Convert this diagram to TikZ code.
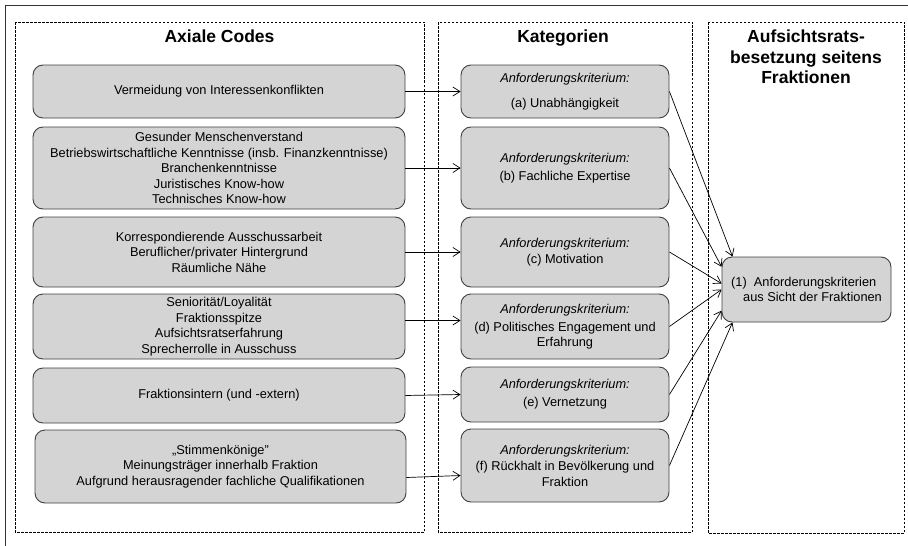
\documentclass[tikz,border=0pt]{standalone}
\usepackage{fontspec}
\setmainfont{Liberation Sans}
\usetikzlibrary{arrows, arrows.meta}
\usetikzlibrary{positioning}
\usepackage{xcolor}

\definecolor{boxgrau}{HTML}{D4D4D4}
\definecolor{randgrau}{HTML}{404040}

\tikzset{
	box/.style={draw=randgrau, fill=boxgrau, line width=0.9pt, rounded corners=10pt, align=center, inner sep=0pt, font=\fontsize{12.8}{15.5}\selectfont},
	codebox/.style={box, minimum width=372pt},
	katbox/.style={box, minimum width=208pt},
	panel/.style={draw, dash pattern=on 2.5pt off 1.5pt, line width=0.7pt},
	titel/.style={font=\fontsize{17.5}{20.5}\selectfont\bfseries, align=center, anchor=north, inner sep=0pt},
	pfeil/.style={-{Straight Barb[length=7pt,width=9pt]}, line width=0.7pt}
}

\begin{document}
\begin{tikzpicture}[x=1pt, y=-1pt] % Axiale Codes -> Kategorien -> Aufsichtsratsbesetzung

	\useasboundingbox (0,0) rectangle (908,546);

	%frame and panels
	\draw[line width=1pt, black!80] (5,546) -- (5,5) -- (908,5);
	\draw[panel] (15,22) rectangle (424,532);
	\draw[panel] (438,22) rectangle (692,532);
	\draw[panel] (708,22) rectangle (904,533);

	%titles
	\node[titel] (tcodes) at (219.5,30) {Axiale Codes};
	\node[titel] (tkat) at (563,30) {Kategorien};
	\node[titel] (tar) at (806,30) {Aufsichtsrats-\\besetzung seitens\\Fraktionen};

	%axiale codes
	\node[codebox, minimum height=53pt] (L1) at (219,91.5) {Vermeidung von Interessenkonflikten};
	\node[codebox, minimum height=82pt] (L2) at (219,168) {Gesunder Menschenverstand\\Betriebswirtschaftliche Kenntnisse (insb. Finanzkenntnisse)\\Branchenkenntnisse\\Juristisches Know-how\\Technisches Know-how};
	\node[codebox, minimum height=70pt] (L3) at (219,252) {Korrespondierende Ausschussarbeit\\Beruflicher/privater Hintergrund\\Räumliche Nähe};
	\node[codebox, minimum height=65pt] (L4) at (219,326.5) {Seniorität/Loyalität\\Fraktionsspitze\\Aufsichtsratserfahrung\\Sprecherrolle in Ausschuss};
	\node[codebox, minimum height=55pt] (L5) at (219,395.5) {Fraktionsintern (und -extern)};
	\node[codebox, minimum height=73pt, minimum width=371pt] (L6) at (220.5,466.5) {„Stimmenkönige"\\Meinungsträger innerhalb Fraktion\\Aufgrund herausragender fachliche Qualifikationen};

	%kategorien
	\node[katbox, minimum height=53pt] (M1) at (565,91.5) {\itshape Anforderungskriterium:\\[9pt](a) Unabhängigkeit};
	\node[katbox, minimum height=82pt] (M2) at (565,168) {\itshape Anforderungskriterium:\\[3pt](b) Fachliche Expertise};
	\node[katbox, minimum height=70pt] (M3) at (565,252) {\itshape Anforderungskriterium:\\(c) Motivation};
	\node[katbox, minimum height=65pt] (M4) at (565,326.5) {\itshape Anforderungskriterium:\\[2.5pt](d) Politisches Engagement und\\Erfahrung};
	\node[katbox, minimum height=55pt] (M5) at (565,394.5) {\itshape Anforderungskriterium:\\[2.5pt](e) Vernetzung};
	\node[katbox, minimum height=73pt] (M6) at (565,465.5) {\itshape Anforderungskriterium:\\[1pt](f) Rückhalt in Bevölkerung und\\Fraktion};

	%ergebnis
	\node[box, align=left, minimum width=169pt, minimum height=65pt] (R) at (806.5,289.5) {(1)\ \ Anforderungskriterien\\\hspace*{12pt}aus Sicht der Fraktionen};

	%arrows
	\draw[pfeil] (L1.east) -- (M1.west);
	\draw[pfeil] (L2.east) -- (M2.west);
	\draw[pfeil] (L3.east) -- (M3.west);
	\draw[pfeil] ([yshift=6pt]L4.east) -- ([yshift=6pt]M4.west);
	\draw[pfeil] (L5.east) -- (M5.west);
	\draw[pfeil] ([yshift=-11pt]L6.east) -- ([yshift=-10pt]M6.west);

	\draw[pfeil] (M1.east) -- (R.156);
	\draw[pfeil] (M2.east) -- (R.165);
	\draw[pfeil] (M3.east) -- (R.176);
	\draw[pfeil] (M4.east) -- (R.180);
	\draw[pfeil] (M5.east) -- (R.194);
	\draw[pfeil] (M6.east) -- (R.204);

\end{tikzpicture}
\end{document}
